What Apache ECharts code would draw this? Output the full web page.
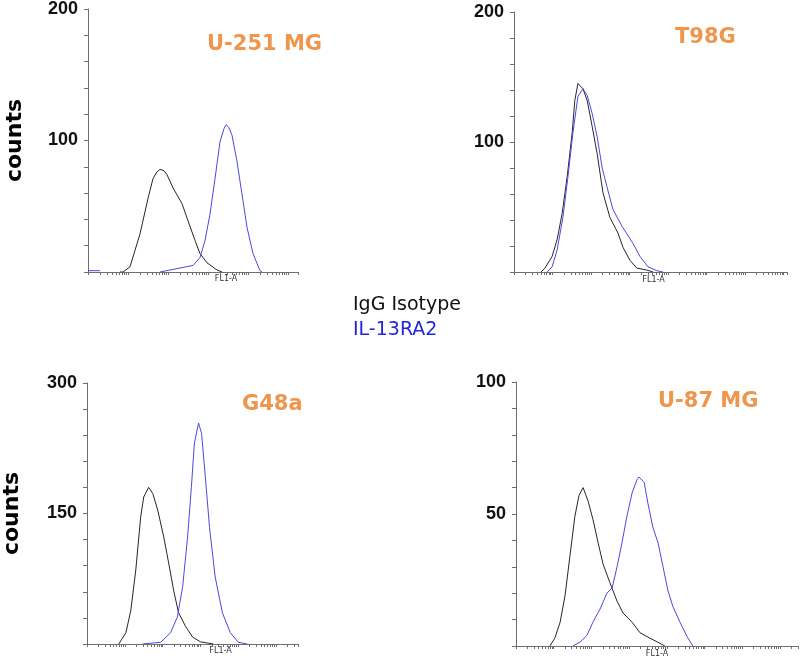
<!DOCTYPE html>
<html>
<head>
<meta charset="utf-8">
<script src="https://cdn.jsdelivr.net/npm/echarts@6/dist/echarts.min.js"></script>
<style>
html,body{margin:0;padding:0;background:#fff;}
#chart{width:800px;height:658px;}
</style>
</head>
<body>
<div id="chart"></div>
<script>
// ---- Data (x values are log10 of FL1-A intensity, y values are counts) ----
const panelNames = ['U-251 MG', 'T98G', 'G48a', 'U-87 MG'];
const seriesNames = ['IgG Isotype', 'IL-13RA2'];
const yMaxes = [200, 200, 300, 100];
const xMaxExp = [6.25, 8.09, 6.58, 8.48];

const p1IsoX = [1.8, 1.875, 2.05, 2.3, 2.5, 2.625, 2.72, 2.8, 2.9, 2.975, 3.125, 3.35, 3.5, 3.675, 3.8, 3.975, 4.225, 4.35];
const p1IsoY = [0, 0, 4, 29, 56, 71, 76, 78, 77, 74, 64, 52, 39, 24, 14, 7, 1.5, 0];
const p1ILX = [1.0, 1.3, 1.32, 2.8, 3.3, 3.625, 3.8, 3.925, 4.05, 4.175, 4.3, 4.4, 4.45, 4.52, 4.6, 4.725, 4.85, 4.975, 5.125, 5.3, 5.35];
const p1ILY = [1, 1, null, 0, 3, 5, 11, 24, 44, 71, 99, 109, 112, 110, 104, 84, 59, 34, 14, 1, 0];

const p2IsoX = [1.70, 1.805, 1.99, 2.12, 2.25, 2.38, 2.51, 2.58, 2.66, 2.79, 2.90, 3.03, 3.16, 3.31, 3.49, 3.70, 3.83, 4.01, 4.19, 4.45, 4.61];
const p2IsoY = [0, 3, 12, 25, 45, 73, 107, 132, 145, 141, 132, 112, 91, 61, 42, 30, 19, 9, 3, 1.5, 0];
const p2ILX = [1.86, 1.99, 2.12, 2.27, 2.40, 2.53, 2.66, 2.79, 2.90, 3.03, 3.16, 3.29, 3.42, 3.57, 3.81, 4.09, 4.27, 4.48, 4.71, 4.87];
const p2ILY = [0, 4, 17, 42, 73, 107, 135, 141, 136, 122, 104, 80, 65, 48, 35, 22, 12, 4, 1, 0];

const p3IsoX = [1.84, 2.03, 2.16, 2.29, 2.42, 2.5, 2.63, 2.74, 2.87, 3.03, 3.16, 3.29, 3.42, 3.61, 3.79, 4.0, 4.34];
const p3IsoY = [0, 13, 39, 85, 146, 169, 180, 173, 154, 123, 93, 62, 36, 20, 8, 2.5, 0];
const p3ILX = [2.47, 2.95, 3.21, 3.39, 3.53, 3.66, 3.76, 3.84, 3.95, 4.03, 4.13, 4.24, 4.39, 4.58, 4.79, 5.0, 5.24];
const p3ILY = [0, 2, 13, 31, 66, 123, 180, 231, 254, 242, 192, 134, 77, 36, 13, 2, 0];

const p4IsoX = [1.90, 2.03, 2.17, 2.30, 2.43, 2.56, 2.67, 2.78, 2.91, 3.04, 3.18, 3.31, 3.49, 3.68, 3.84, 4.08, 4.29, 4.55, 4.82, 4.95];
const p4IsoY = [0, 3, 9, 19, 34, 49, 57, 60, 55, 48, 39, 31, 24, 17, 12.5, 9, 5, 3, 1, 0];
const p4ILX = [2.51, 2.70, 2.88, 3.04, 3.23, 3.41, 3.55, 3.68, 3.81, 3.94, 4.08, 4.21, 4.26, 4.40, 4.50, 4.63, 4.77, 4.90, 5.03, 5.16, 5.35, 5.54, 5.69];
const p4ILY = [0, 1.5, 4, 9, 14, 20, 22, 30, 39, 49, 58, 63, 64, 62, 54, 45, 39, 30, 21, 15, 9, 3.5, 0];

const panelData = [
  [[p1IsoX, p1IsoY], [p1ILX, p1ILY]],
  [[p2IsoX, p2IsoY], [p2ILX, p2ILY]],
  [[p3IsoX, p3IsoY], [p3ILX, p3ILY]],
  [[p4IsoX, p4IsoY], [p4ILX, p4ILY]]
];

// ---- Layout / styles ----
const grids = [
  {left: 88, top: 5, width: 210, height: 267},
  {left: 514, top: 12, width: 273, height: 260},
  {left: 86, top: 383, width: 212, height: 261},
  {left: 516, top: 382, width: 282, height: 264}
];
const lineColors = ['#262626', '#4848e4'];
const axisColor = '#6e6e6e';
const titleColor = '#f0954c';

const toPts = (xs, ys) => xs.map((e, k) => [Math.pow(10, e), ys[k]]);

const xAxes = grids.map((g, i) => ({
  gridIndex: i, type: 'log', logBase: 10,
  min: 10, max: Math.pow(10, xMaxExp[i]), splitNumber: 12,
  axisLine: {show: true, lineStyle: {color: axisColor, width: 1}},
  axisTick: {show: true, length: 3, lineStyle: {color: axisColor}},
  minorTick: {show: true, splitNumber: 9, length: 3, lineStyle: {color: axisColor}},
  axisLabel: {show: false}, splitLine: {show: false}, minorSplitLine: {show: false}
}));

const yAxes = grids.map((g, i) => ({
  gridIndex: i, type: 'value', min: 0, max: yMaxes[i], interval: yMaxes[i] / 2,
  axisLine: {show: true, lineStyle: {color: axisColor, width: 1}},
  axisTick: {show: true, length: 4, lineStyle: {color: axisColor}},
  minorTick: {show: true, splitNumber: 5, length: 4, lineStyle: {color: axisColor}},
  splitLine: {show: false},
  axisLabel: {
    showMinLabel: false, margin: 10,
    formatter: v => (v === 0 ? '' : String(v)),
    fontFamily: 'Liberation Sans', fontWeight: 'bold', fontSize: 18, color: '#111'
  },
  name: (i % 2 === 0) ? 'counts' : '',
  nameLocation: 'middle', nameRotate: 90, nameGap: i === 0 ? 62 : 64,
  nameTextStyle: {fontFamily: 'DejaVu Sans', fontWeight: 'bold', fontSize: 22, color: '#000'}
}));

const series = [];
panelData.forEach((pd, i) => {
  pd.forEach((s, j) => {
    series.push({
      name: seriesNames[j], type: 'line', xAxisIndex: i, yAxisIndex: i,
      data: toPts(s[0], s[1]), showSymbol: false, symbol: 'none',
      lineStyle: {color: lineColors[j], width: 1}, itemStyle: {color: lineColors[j]},
      connectNulls: false, animation: false, z: 3 + j
    });
  });
});

const titlePos = [[207, 44.5], [675, 38], [242, 405], [658, 402]];
const fl1Pos = [[226, 278.5], [653.5, 279.5], [220.5, 650.5], [657, 654]];
const graphics = [];
panelNames.forEach((n, i) => {
  graphics.push({type: 'text', x: titlePos[i][0], y: titlePos[i][1],
    style: {text: n, font: 'bold 21px "DejaVu Sans"', fill: titleColor,
      align: 'left', verticalAlign: 'middle', textAlign: 'left', textVerticalAlign: 'middle'}});
  graphics.push({type: 'text', x: fl1Pos[i][0], y: fl1Pos[i][1],
    style: {text: 'FL1-A', font: '8px "DejaVu Sans"', fill: '#333',
      align: 'center', verticalAlign: 'middle', textAlign: 'center', textVerticalAlign: 'middle'}});
});
const legendPos = [[353, 305], [353, 330]];
const legendColors = ['#111111', '#2424dc'];
seriesNames.forEach((n, j) => {
  graphics.push({type: 'text', x: legendPos[j][0], y: legendPos[j][1],
    style: {text: n, font: '19px "DejaVu Sans"', fill: legendColors[j],
      align: 'left', verticalAlign: 'middle', textAlign: 'left', textVerticalAlign: 'middle'}});
});

const chart = echarts.init(document.getElementById('chart'), null, {renderer: 'canvas'});
chart.setOption({
  backgroundColor: '#ffffff',
  animation: false,
  grid: grids.map(g => Object.assign({containLabel: false}, g)),
  xAxis: xAxes,
  yAxis: yAxes,
  series: series,
  graphic: graphics
});
</script>
</body>
</html>
